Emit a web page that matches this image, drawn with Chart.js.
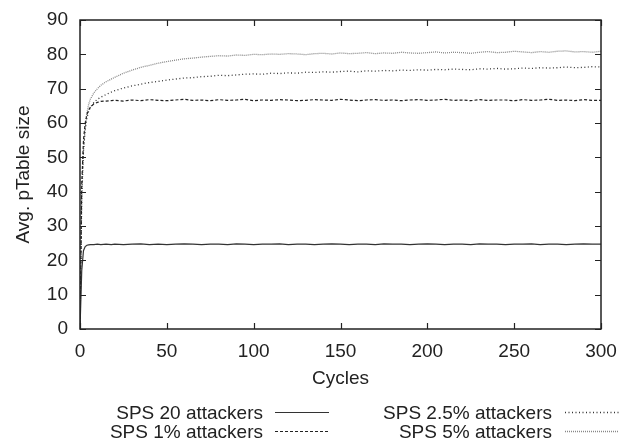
<!DOCTYPE html>
<html>
<head>
<meta charset="utf-8">
<script src="https://cdn.jsdelivr.net/npm/chart.js@4"></script>
<style>
  html, body { margin: 0; padding: 0; background: #fff; }
  #wrap { width: 622px; height: 442px; }
</style>
</head>
<body>
<div id="wrap"><canvas id="myChart" width="622" height="442"></canvas></div>
<script>
// cycle numbers where the table size was sampled
const cycles = [0, 1, 2, 3, 4, 5, 6, 8, 10, 12, 15, 18,
  20, 25, 30, 35, 40, 45, 50, 55, 60, 65,
  70, 75, 80, 85, 90, 95, 100, 105, 110, 115,
  120, 125, 130, 135, 140, 145, 150, 155, 160, 165,
  170, 175, 180, 185, 190, 195, 200, 205, 210, 215,
  220, 225, 230, 235, 240, 245, 250, 255, 260, 265,
  270, 275, 280, 285, 290, 295, 300];

// average pTable size per series
const sps20 = [0, 17, 22.8, 24.0, 24.4, 24.5, 24.6, 24.6, 24.7, 24.6, 24.7, 24.6,
  24.7, 24.6, 24.7, 24.8, 24.6, 24.7, 24.6, 24.7, 24.8, 24.7,
  24.6, 24.7, 24.7, 24.6, 24.8, 24.7, 24.6, 24.7, 24.7, 24.8,
  24.6, 24.7, 24.7, 24.6, 24.7, 24.8, 24.7, 24.6, 24.7, 24.7,
  24.6, 24.8, 24.7, 24.7, 24.6, 24.7, 24.8, 24.7, 24.6, 24.7,
  24.7, 24.6, 24.8, 24.7, 24.7, 24.6, 24.7, 24.7, 24.8, 24.6,
  24.7, 24.7, 24.6, 24.7, 24.8, 24.7, 24.7];

const sps1 = [0, 42, 55, 60, 62.5, 63.8, 64.6, 65.6, 66.0, 66.3, 66.4, 66.5,
  66.6, 66.4, 66.7, 66.5, 66.8, 66.6, 66.5, 66.7, 66.9, 66.6,
  66.7, 66.5, 66.8, 66.6, 66.7, 66.9, 66.5, 66.7, 66.6, 66.8,
  66.7, 66.5, 66.6, 66.8, 66.7, 66.6, 66.9, 66.7, 66.5, 66.7,
  66.8, 66.6, 66.7, 66.5, 66.7, 66.8, 66.6, 66.7, 66.9, 66.6,
  66.7, 66.5, 66.8, 66.6, 66.7, 66.7, 66.5, 66.8, 66.6, 66.7,
  66.9, 66.6, 66.7, 66.5, 66.8, 66.6, 66.6];

const sps25 = [0, 40, 52, 58, 61.5, 63.5, 64.6, 66.0, 66.9, 67.5, 68.3, 69.0,
  69.4, 70.2, 70.8, 71.3, 71.8, 72.1, 72.5, 72.8, 73.1, 73.2,
  73.5, 73.6, 73.9, 73.8, 74.0, 74.2, 74.3, 74.2, 74.5, 74.4,
  74.6, 74.5, 74.8, 74.7, 74.9, 74.8, 75.0, 75.1, 74.9, 75.2,
  75.1, 75.3, 75.2, 75.4, 75.3, 75.5, 75.4, 75.6, 75.5, 75.7,
  75.6, 75.5, 75.8, 75.7, 75.9, 75.7, 75.8, 76.0, 75.9, 76.1,
  76.0, 76.1, 76.3, 76.1, 76.2, 76.4, 76.3];

const sps5 = [0, 38, 52, 59, 63, 65.5, 67.0, 68.8, 70.0, 71.0, 72.0, 72.8,
  73.3, 74.5, 75.4, 76.2, 76.8, 77.4, 77.9, 78.3, 78.7, 78.9,
  79.2, 79.4, 79.6, 79.5, 79.8, 79.7, 80.0, 79.9, 80.1, 80.0,
  80.2, 80.1, 79.9, 80.2, 80.3, 80.1, 80.4, 80.2, 80.3, 80.5,
  80.2, 80.4, 80.3, 80.6, 80.4, 80.3, 80.5, 80.7, 80.4, 80.6,
  80.5, 80.3, 80.6, 80.8, 80.5, 80.6, 80.9, 80.7, 80.5, 80.8,
  80.6, 80.9, 81.0, 80.7, 80.8, 80.6, 80.9];

const seriesLabels = ['SPS 20 attackers', 'SPS 1% attackers', 'SPS 2.5% attackers', 'SPS 5% attackers'];
const xTicks = [0, 50, 100, 150, 200, 250, 300];
const yTicks = [0, 10, 20, 30, 40, 50, 60, 70, 80, 90];
const xTitle = 'Cycles';
const yTitle = 'Avg. pTable size';

const FONT = '"Liberation Sans", Arial, sans-serif';
const FONT_SIZE = 19;

function points(values) {
  return values.map((v, i) => ({ x: cycles[i], y: v }));
}

const lineStyles = [
  { color: '#333', dash: [], width: 1.2 },
  { color: '#222', dash: [3, 2], width: 1.2 },
  { color: '#333', dash: [1, 2.5], width: 1.3 },
  { color: '#888', dash: [1, 1], width: 1.3 }
];

const allValues = [sps20, sps1, sps25, sps5];

const datasets = allValues.map((vals, i) => ({
  label: seriesLabels[i],
  data: points(vals),
  borderColor: lineStyles[i].color,
  borderDash: lineStyles[i].dash,
  borderWidth: lineStyles[i].width,
  pointRadius: 0,
  tension: 0,
  fill: false
}));

// frame, inward tick marks, axis titles and the two-column legend
const framePlugin = {
  id: 'frame',
  afterDraw(chart) {
    const ctx = chart.ctx;
    const a = chart.chartArea;
    const xs = chart.scales.x, ys = chart.scales.y;
    ctx.save();
    ctx.strokeStyle = '#222';
    ctx.lineWidth = 1.5;
    ctx.setLineDash([]);
    ctx.strokeRect(a.left, a.top, a.right - a.left, a.bottom - a.top);
    ctx.lineWidth = 1.2;
    ctx.beginPath();
    xTicks.forEach(t => {
      const px = Math.round(xs.getPixelForValue(t)) + 0.5;
      ctx.moveTo(px, a.bottom); ctx.lineTo(px, a.bottom - 6);
      ctx.moveTo(px, a.top); ctx.lineTo(px, a.top + 6);
    });
    yTicks.forEach(t => {
      const py = Math.round(ys.getPixelForValue(t)) + 0.5;
      ctx.moveTo(a.left, py); ctx.lineTo(a.left + 6, py);
      ctx.moveTo(a.right, py); ctx.lineTo(a.right - 6, py);
    });
    ctx.stroke();

    ctx.font = FONT_SIZE + 'px ' + FONT;
    ctx.fillStyle = '#222';

    // axis titles
    ctx.textAlign = 'center';
    ctx.textBaseline = 'alphabetic';
    ctx.fillText(xTitle, (a.left + a.right) / 2, 384);
    ctx.save();
    ctx.translate(29, (a.top + a.bottom) / 2);
    ctx.rotate(-Math.PI / 2);
    ctx.fillText(yTitle, 0, 0);
    ctx.restore();

    // legend
    ctx.textAlign = 'right';
    const cols = [{ tx: 263, lx: 275 }, { tx: 552, lx: 565 }];
    const rows = [419, 438];
    const order = [0, 2, 1, 3];
    order.forEach((di, k) => {
      const col = cols[k % 2], row = rows[Math.floor(k / 2)];
      const ds = chart.data.datasets[di];
      ctx.fillText(ds.label, col.tx, row);
      ctx.strokeStyle = ds.borderColor;
      ctx.lineWidth = ds.borderWidth;
      ctx.setLineDash(ds.borderDash);
      ctx.beginPath();
      ctx.moveTo(col.lx, row - 6.5);
      ctx.lineTo(col.lx + 54, row - 6.5);
      ctx.stroke();
    });
    ctx.restore();
  }
};

const config = {
  type: 'line',
  data: { datasets: datasets },
  options: {
    responsive: false,
    animation: false,
    layout: { padding: { top: 20, right: 21, left: 0, bottom: 0 } },
    plugins: { legend: { display: false }, tooltip: { enabled: false } },
    scales: {
      x: {
        type: 'linear',
        min: 0, max: 300,
        afterBuildTicks: s => { s.ticks = xTicks.map(v => ({ value: v })); },
        afterFit: s => { s.height = 113; s.paddingLeft = 0; s.paddingRight = 0; },
        grid: { display: false, drawTicks: false },
        border: { display: false },
        ticks: { color: '#222', font: { family: FONT, size: FONT_SIZE }, padding: 11, maxRotation: 0 }
      },
      y: {
        min: 0, max: 90,
        afterBuildTicks: s => { s.ticks = yTicks.map(v => ({ value: v })); },
        afterFit: s => { s.width = 80; s.paddingTop = 0; s.paddingBottom = 0; },
        grid: { display: false, drawTicks: false },
        border: { display: false },
        ticks: { color: '#222', font: { family: FONT, size: FONT_SIZE }, padding: 12 }
      }
    }
  },
  plugins: [framePlugin]
};

new Chart(document.getElementById('myChart'), config);
</script>
</body>
</html>
